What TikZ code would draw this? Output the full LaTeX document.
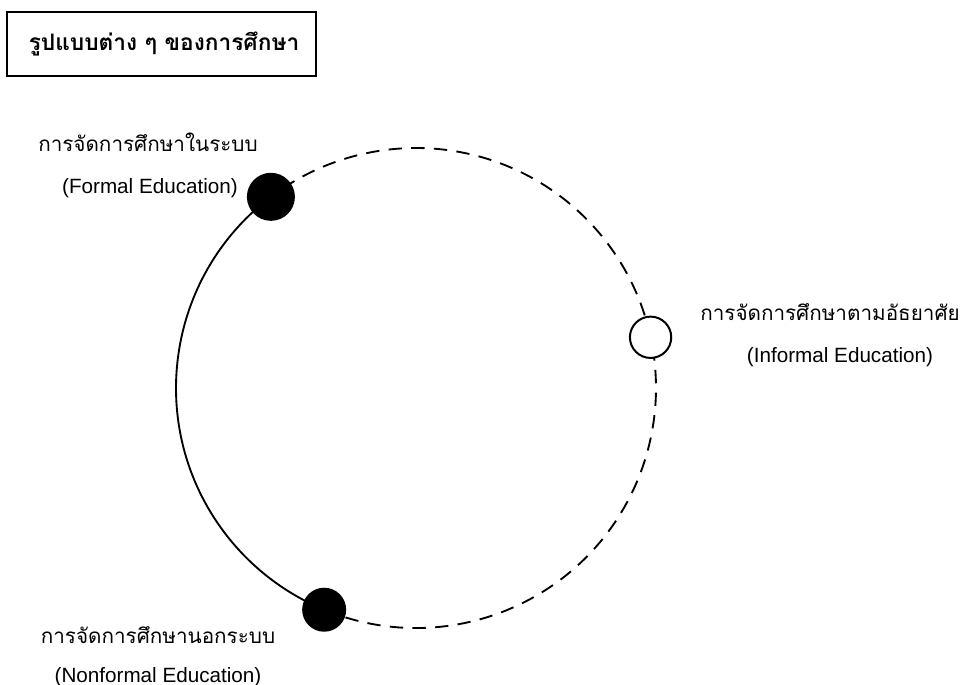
\documentclass[tikz,border=0pt]{standalone}
\usepackage{fontspec}
\usetikzlibrary{calc}
\setmainfont{Liberation Sans}
\newfontfamily\thaifont[Script=Thai]{Loma}
\begin{document}
\begin{tikzpicture}[x=0.75pt,y=0.75pt,
  engtext/.style={font=\fontsize{15.5pt}{18pt}\selectfont, inner sep=0pt},
  thaitext/.style={font=\thaifont\fontsize{15.5pt}{18pt}\selectfont, inner sep=0pt},
  titletext/.style={font=\thaifont\bfseries\fontsize{17pt}{20pt}\selectfont, inner sep=0pt},
  titlebox/.style={draw=black, line width=1.4pt, minimum width=231.75pt, minimum height=48pt, inner sep=0pt},
  bigdot/.style={circle, fill=black, inner sep=0pt, minimum size=#1},
  opendot/.style={circle, draw=black, fill=white, line width=1.5pt, inner sep=0pt, minimum size=31pt},
  solidarc/.style={line width=1.4pt},
  dasharc/.style={line width=1.4pt, dash pattern=on 10pt off 7pt}
]
\useasboundingbox (0,0) rectangle (974,685);

% circle geometry
\coordinate (C) at (416,297);
\coordinate (pF) at ($(C)+(127.2:240)$);
\coordinate (pN) at ($(C)+(247.5:240)$);
\coordinate (pI) at ($(C)+(12.2:240)$);

% arcs
\draw[solidarc] (pF) arc[start angle=127.2, end angle=247.5, radius=240];
\draw[dasharc] (pN) arc[start angle=247.5, end angle=372.2, radius=240];
\draw[dasharc] (pI) arc[start angle=12.2, end angle=127.2, radius=240];

% markers
\node[bigdot=36pt] (formal) at (pF) {};
\node[bigdot=33pt] (nonformal) at (pN) {};
\node[opendot] (informal) at (pI) {};

% title
\node[titlebox] (tbox) at (161.5,641) {};
\node[titletext] (title) at (164,641) {รูปแบบต่าง ๆ ของการศึกษา};

% labels
\node[thaitext] (fth) at (148,543) {การจัดการศึกษาในระบบ};
\node[engtext] (fen) at (150,497) {(Formal Education)};
\node[thaitext] (ith) at (830,373) {การจัดการศึกษาตามอัธยาศัย};
\node[engtext] (ien) at (840,328) {(Informal Education)};
\node[thaitext] (nth) at (158,50) {การจัดการศึกษานอกระบบ};
\node[engtext] (nen) at (158,8) {(Nonformal Education)};
\end{tikzpicture}
\end{document}
